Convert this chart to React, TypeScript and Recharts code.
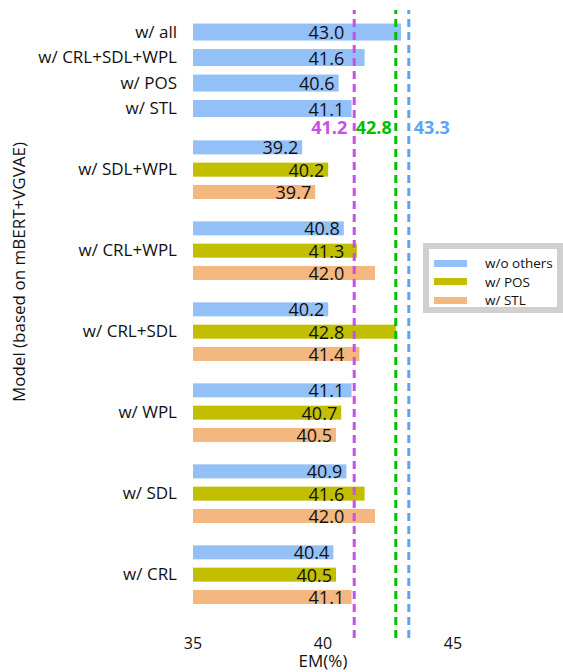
import { Bar, BarChart, LabelList, ReferenceLine, XAxis, YAxis } from 'recharts'

// single-bar models at the top
const singleLabels = ['w/ all', 'w/ CRL+SDL+WPL', 'w/ POS', 'w/ STL']
const singleValues = [43.0, 41.6, 40.6, 41.1]

// grouped models, one value per variant
const groupLabels = ['w/ SDL+WPL', 'w/ CRL+WPL', 'w/ CRL+SDL', 'w/ WPL', 'w/ SDL', 'w/ CRL']
const woOthers = [39.2, 40.8, 40.2, 41.1, 40.9, 40.4]
const withPos = [40.2, 41.3, 42.8, 40.7, 41.6, 40.5]
const withStl = [39.7, 42.0, 41.4, 40.5, 42.0, 41.1]

const seriesNames = ['w/o others', 'w/ POS', 'w/ STL']
const refValues = [41.2, 42.8, 43.3]
const xTicks = [35, 40, 45]

const seriesColors = ['#94c0f8', '#c2bf00', '#f3b77f']
const refStyles = [
  { color: '#c84fe8', anchor: 'end', dx: -7 },
  { color: '#00c000', anchor: 'end', dx: -4 },
  { color: '#5aa5f5', anchor: 'start', dx: 5 },
]

const FONT = '"Open Sans", sans-serif'

// row layout (pixels from top of plot)
const SINGLE_TOP = 21.7
const SINGLE_STEP = 25.5
const GROUP_TOP = 137
const BAR_STEP = 22.3
const GROUP_STEP = 81

type Row = { pos: number; value: number; series: number; kind: 'single' | 'group' }

const rows: Row[] = []
const tickPos: number[] = []
const tickText = new Map<number, string>()

singleValues.forEach((v, i) => {
  const pos = SINGLE_TOP + i * SINGLE_STEP
  rows.push({ pos, value: v, series: 0, kind: 'single' })
  tickPos.push(pos)
  tickText.set(pos, singleLabels[i])
})

const groupSeries = [woOthers, withPos, withStl]
groupLabels.forEach((label, g) => {
  const top = GROUP_TOP + g * GROUP_STEP
  groupSeries.forEach((vals, s) => {
    rows.push({ pos: top + s * BAR_STEP, value: vals[g], series: s, kind: 'group' })
  })
  tickPos.push(top + BAR_STEP)
  tickText.set(top + BAR_STEP, label)
})

const BarShape = (props: any) => {
  const { x, y, width, height, payload } = props
  const shrink = payload.kind === 'group' ? 1.5 : 0
  return (
    <rect
      x={x}
      y={y + shrink}
      width={width}
      height={height - shrink * 2}
      fill={seriesColors[payload.series]}
    />
  )
}

const ValueLabel = (props: any) => {
  const { x, y, width, height, value } = props
  const unit = width / (value - 35)
  // labels stay left of the first dashed line
  const cap = x + (refValues[0] - 35) * unit - 10
  const end = Math.min(x + width - 4, cap)
  return (
    <text
      x={end}
      y={y + height / 2}
      textAnchor="end"
      dominantBaseline="central"
      fontFamily={FONT}
      fontSize={18}
      fill="#111"
    >
      {value.toFixed(1)}
    </text>
  )
}

const YTitle = () => (
  <text
    transform="translate(18,272) rotate(-90)"
    textAnchor="middle"
    dominantBaseline="central"
    fontFamily={FONT}
    fontSize={17}
    fill="#111"
  >
    Model (based on mBERT+VGVAE)
  </text>
)

export default function App() {
  return (
    <div style={{ position: 'absolute', left: 0, top: 0, width: 563, height: 672, background: '#fff' }}>
      <BarChart
        width={563}
        height={672}
        layout="vertical"
        data={rows}
        margin={{ top: 10, right: 110, bottom: 0, left: 8 }}
      >
        <XAxis
          type="number"
          domain={[35, 45]}
          ticks={xTicks}
          axisLine={false}
          tickLine={false}
          tickSize={0}
          tickMargin={0}
          height={34}
          tick={{ fontFamily: FONT, fontSize: 16, fill: '#111' }}
          label={{
            value: 'EM(%)',
            position: 'insideBottom',
            offset: 5,
            fontFamily: FONT,
            fontSize: 17,
            fill: '#111',
          }}
        />
        <YAxis
          type="number"
          dataKey="pos"
          domain={[0, 628]}
          ticks={tickPos}
          interval={0}
          tickFormatter={(v: number) => tickText.get(v) ?? ''}
          axisLine={false}
          tickLine={false}
          tickSize={0}
          tickMargin={16}
          width={185}
          tick={{ fontFamily: FONT, fontSize: 17, fill: '#111' }}
          label={{ content: () => <YTitle /> }}
        />
        <Bar dataKey="value" barSize={17} shape={BarShape} isAnimationActive={false}>
          <LabelList dataKey="value" content={ValueLabel} />
        </Bar>
        {refValues.map((v, i) => (
          <ReferenceLine
            key={v}
            x={v}
            stroke={refStyles[i].color}
            strokeWidth={3}
            strokeDasharray="8 5"
            label={{
              content: (p: any) => (
                <text
                  x={p.viewBox.x + refStyles[i].dx}
                  y={127}
                  textAnchor={refStyles[i].anchor as any}
                  dominantBaseline="central"
                  fontFamily={FONT}
                  fontSize={18}
                  fontWeight="bold"
                  fill={refStyles[i].color}
                >
                  {v.toFixed(1)}
                </text>
              ),
            }}
          />
        ))}
      </BarChart>
      <div
        style={{
          position: 'absolute',
          left: 423,
          top: 243,
          width: 128,
          height: 58,
          border: '6px solid #d0d0d0',
          background: '#fff',
          fontFamily: FONT,
          fontSize: 13.5,
          color: '#111',
        }}
      >
        {seriesNames.map((name, i) => (
          <div
            key={name}
            style={{ position: 'absolute', left: 5, top: 5 + i * 18.5, height: 18, display: 'flex', alignItems: 'center' }}
          >
            <div style={{ width: 33, height: 7, background: seriesColors[i] }} />
            <span style={{ marginLeft: 18, whiteSpace: 'nowrap' }}>{name}</span>
          </div>
        ))}
      </div>
    </div>
  )
}
